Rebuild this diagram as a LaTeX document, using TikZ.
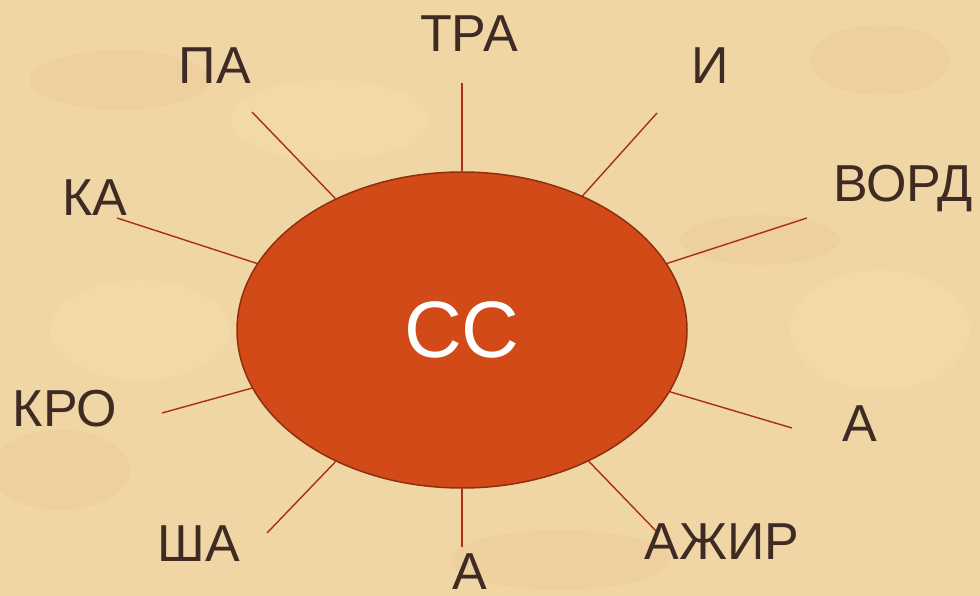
\documentclass[tikz,border=0pt]{standalone}
\usepackage{fontspec}
\setmainfont{Liberation Sans}
\usetikzlibrary{shapes.geometric}
\definecolor{paper}{HTML}{F1D6A5}
\definecolor{paperdark}{HTML}{E2B98A}
\definecolor{paperlight}{HTML}{F8E5B6}
\definecolor{sunfill}{HTML}{D24A18}
\definecolor{sunedge}{HTML}{8E2F0C}
\definecolor{spoke}{HTML}{A8300E}
\definecolor{ink}{HTML}{3D2B24}
\tikzset{
  lbl/.style={text=ink, font=\fontsize{52}{60}\selectfont, inner sep=0pt, text depth=0pt, anchor=center},
  spokeline/.style={draw=spoke, line width=1.4pt},
  sun/.style={ellipse, fill=sunfill, draw=sunedge, line width=1.5pt, minimum width=450pt, minimum height=316pt, inner sep=0pt, text=white, font=\fontsize{80}{90}\selectfont}
}
\begin{document}
\begin{tikzpicture}[x=1pt,y=-1pt]
\useasboundingbox (0,0) rectangle (980,596);
\fill[paper] (0,0) rectangle (980,596);
% parchment blotches
\begin{scope}[opacity=0.2]
\fill[paperdark] (120,80) ellipse (90 and 30);
\fill[paperdark] (760,240) ellipse (80 and 25);
\fill[paperdark] (880,60) ellipse (70 and 35);
\fill[paperdark] (60,470) ellipse (70 and 40);
\fill[paperdark] (560,560) ellipse (110 and 30);
\fill[paperlight] (330,120) ellipse (100 and 40);
\fill[paperlight] (880,330) ellipse (90 and 60);
\fill[paperlight] (140,330) ellipse (90 and 50);
\end{scope}

\node[sun] (cc) at (462,330) {СС};

\coordinate (eTRA) at (462,83);
\coordinate (ePA) at (252,112);
\coordinate (eI) at (657,113);
\coordinate (eVORD) at (807,218);
\coordinate (eKA) at (117,218);
\coordinate (eKRO) at (162,413);
\coordinate (eAr) at (792,428);
\coordinate (eSHA) at (267,533);
\coordinate (eAb) at (462,547);
\coordinate (eAZH) at (657,532);

\foreach \e in {eTRA,ePA,eI,eVORD,eKA,eKRO,eAr,eSHA,eAb,eAZH}
  \draw[spokeline] (cc) -- (\e);

\node[lbl] (tra) at (469,34) {ТРА};
\node[lbl] (pa) at (215,66) {ПА};
\node[lbl] (i) at (710,66) {И};
\node[lbl] (vord) at (903,183) {ВОРД};
\node[lbl] (ka) at (95,198) {КА};
\node[lbl] (kro) at (65,408) {КРО};
\node[lbl] (ar) at (860,424) {А};
\node[lbl] (sha) at (199,544) {ША};
\node[lbl] (ab) at (470,572) {А};
\node[lbl] (azh) at (722,542) {АЖИР};
\end{tikzpicture}
\end{document}
